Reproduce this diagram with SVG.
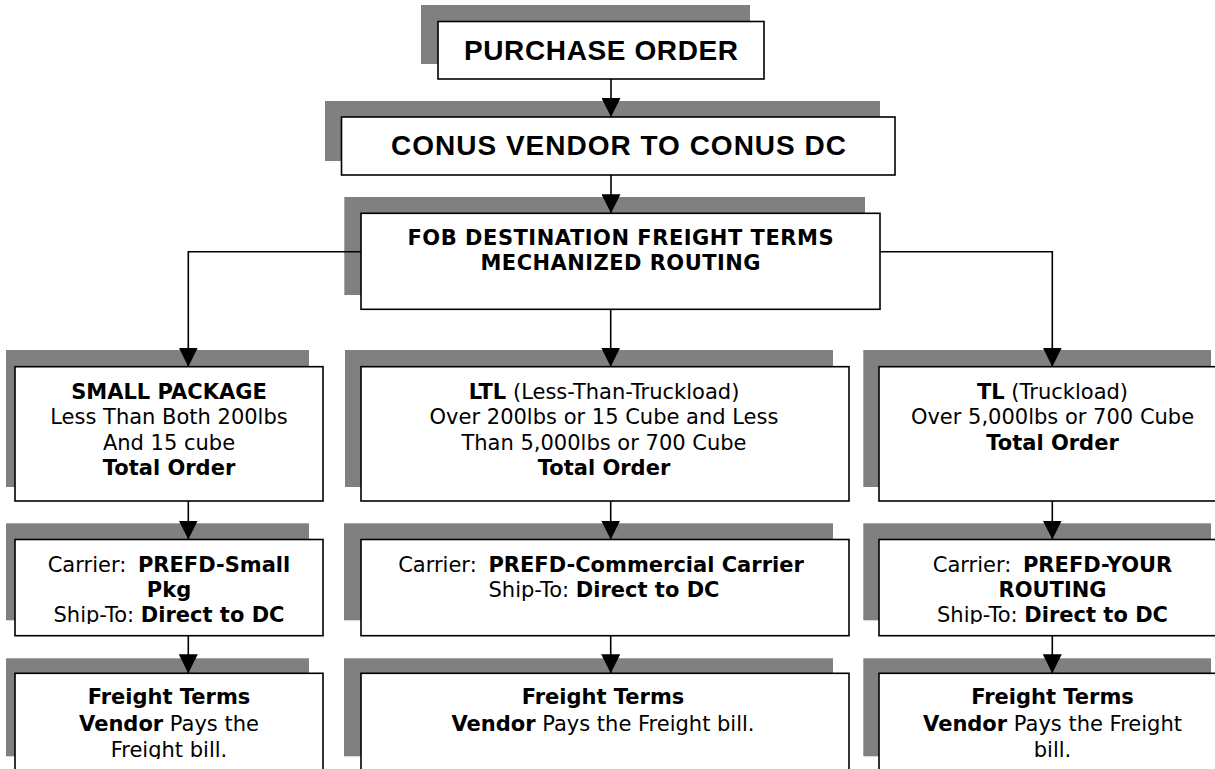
<svg xmlns="http://www.w3.org/2000/svg" width="1215" height="769" viewBox="0 0 1215 769">
<style>
.bg{fill:#ffffff}
.sh{fill:#808080}
.bx{fill:#ffffff;stroke:#000;stroke-width:1.6}
.cn{fill:none;stroke:#000;stroke-width:1.6}
.ti{font-family:"Liberation Sans",Arial,sans-serif;font-weight:bold;font-size:28px;fill:#000;text-anchor:middle}
.fb{font-family:"DejaVu Sans",Verdana,sans-serif;font-weight:bold;font-size:21px;fill:#000;text-anchor:middle}
.t{font-family:"DejaVu Sans",Verdana,sans-serif;font-size:21px;fill:#000;text-anchor:middle}
.b{font-weight:bold}
</style>
<defs>
<marker id="ah" markerUnits="userSpaceOnUse" markerWidth="19" markerHeight="19" viewBox="0 0 10 10" refX="10" refY="5" orient="auto">
<path d="M0,0 L10,5 L0,10 z" fill="#000"/>
</marker>
<clipPath id="c2"><rect x="0" y="536" width="1215" height="88"/></clipPath>
<clipPath id="c3"><rect x="0" y="670" width="1215" height="89"/></clipPath>
</defs>
<rect class="bg" x="0" y="0" width="1215" height="769"/>

<g id="purchase-order">
<rect class="sh" x="421" y="5" width="329" height="59"/>
<rect class="bx" x="438" y="21.5" width="326" height="57.5"/>
<text class="ti" x="601" y="59.5" textLength="274">PURCHASE ORDER</text>
</g>

<g id="conus">
<rect class="sh" x="325" y="101" width="555" height="60"/>
<rect class="bx" x="341.5" y="117" width="553.5" height="58"/>
<text class="ti" x="618.5" y="155" textLength="455">CONUS VENDOR TO CONUS DC</text>
</g>

<g id="fob">
<rect class="sh" x="344.3" y="197" width="520.7" height="98"/>
<rect class="bx" x="361" y="213.3" width="519" height="96"/>
<text class="fb" x="620.5" y="245" textLength="426">FOB DESTINATION FREIGHT TERMS</text>
<text class="fb" x="620.5" y="269.5" textLength="280">MECHANIZED ROUTING</text>
</g>

<g id="small-package">
<rect class="sh" x="6" y="350" width="303" height="137"/>
<rect class="bx" x="15" y="366.7" width="308" height="134.3"/>
<text class="t b" x="169" y="398.5">SMALL PACKAGE</text>
<text class="t" x="169" y="424">Less Than Both 200lbs</text>
<text class="t" x="169" y="449.5">And 15 cube</text>
<text class="t b" x="169" y="475">Total Order</text>
</g>

<g id="ltl">
<rect class="sh" x="345" y="350" width="488" height="137"/>
<rect class="bx" x="361" y="366.7" width="488" height="134.3"/>
<text class="t" x="604" y="398.5"><tspan class="b">LTL</tspan> (Less-Than-Truckload)</text>
<text class="t" x="604" y="424">Over 200lbs or 15 Cube and Less</text>
<text class="t" x="604" y="449.5">Than 5,000lbs or 700 Cube</text>
<text class="t b" x="604" y="475">Total Order</text>
</g>

<g id="tl">
<rect class="sh" x="863.3" y="350" width="347.7" height="137"/>
<rect class="bx" x="879" y="366.7" width="347" height="134.3"/>
<text class="t" x="1052.5" y="398.5"><tspan class="b">TL</tspan> (Truckload)</text>
<text class="t" x="1052.5" y="424">Over 5,000lbs or 700 Cube</text>
<text class="t b" x="1052.5" y="449.5">Total Order</text>
</g>

<g id="carrier-small">
<rect class="sh" x="6" y="523.3" width="303" height="97"/>
<rect class="bx" x="15" y="539.5" width="308" height="96.2"/>
<g clip-path="url(#c2)">
<text class="t" x="169" y="571.7">Carrier: <tspan class="b" dx="5">PREFD-Small</tspan></text>
<text class="t b" x="169" y="596.7">Pkg</text>
<text class="t" x="169" y="621.7">Ship-To: <tspan class="b">Direct to DC</tspan></text>
</g>
</g>

<g id="carrier-ltl">
<rect class="sh" x="344" y="523.3" width="489" height="97"/>
<rect class="bx" x="361" y="539.5" width="488" height="96.2"/>
<text class="t" x="601" y="571.7">Carrier: <tspan class="b" dx="5">PREFD-Commercial Carrier</tspan></text>
<text class="t" x="604" y="596.7">Ship-To: <tspan class="b">Direct to DC</tspan></text>
</g>

<g id="carrier-tl">
<rect class="sh" x="863.3" y="523.3" width="347.7" height="97"/>
<rect class="bx" x="879" y="539.5" width="347" height="96.2"/>
<g clip-path="url(#c2)">
<text class="t" x="1052.5" y="571.7">Carrier: <tspan class="b" dx="5">PREFD-YOUR</tspan></text>
<text class="t b" x="1052.5" y="596.7">ROUTING</text>
<text class="t" x="1052.5" y="621.7">Ship-To: <tspan class="b">Direct to DC</tspan></text>
</g>
</g>

<g id="freight-small">
<rect class="sh" x="6" y="658.3" width="303" height="98"/>
<rect class="bx" x="15" y="673.3" width="308" height="98"/>
<g clip-path="url(#c3)">
<text class="t b" x="169" y="704">Freight Terms</text>
<text class="t" x="169" y="730.5"><tspan class="b">Vendor</tspan> Pays the</text>
<text class="t" x="169" y="757">Freight bill.</text>
</g>
</g>

<g id="freight-ltl">
<rect class="sh" x="344" y="658.3" width="489" height="98"/>
<rect class="bx" x="361" y="673.3" width="488" height="98"/>
<text class="t b" x="603" y="704">Freight Terms</text>
<text class="t" x="603" y="730.5"><tspan class="b">Vendor</tspan> Pays the Freight bill.</text>
</g>

<g id="freight-tl">
<rect class="sh" x="863.3" y="658.3" width="347.7" height="98"/>
<rect class="bx" x="879" y="673.3" width="347" height="98"/>
<g clip-path="url(#c3)">
<text class="t b" x="1052.5" y="704">Freight Terms</text>
<text class="t" x="1052.5" y="730.5"><tspan class="b">Vendor</tspan> Pays the Freight</text>
<text class="t" x="1052.5" y="757">bill.</text>
</g>
</g>

<g id="connectors">
<line class="cn" x1="611" y1="79" x2="611" y2="117" marker-end="url(#ah)"/>
<line class="cn" x1="611" y1="175" x2="611" y2="213.3" marker-end="url(#ah)"/>
<polyline class="cn" points="361,251.7 188.3,251.7 188.3,366.7" marker-end="url(#ah)"/>
<line class="cn" x1="610.7" y1="309.3" x2="610.7" y2="366.7" marker-end="url(#ah)"/>
<polyline class="cn" points="880,251.7 1052.3,251.7 1052.3,366.7" marker-end="url(#ah)"/>
<line class="cn" x1="188.3" y1="501" x2="188.3" y2="539.5" marker-end="url(#ah)"/>
<line class="cn" x1="188.3" y1="635.7" x2="188.3" y2="673.3" marker-end="url(#ah)"/>
<line class="cn" x1="610.7" y1="501" x2="610.7" y2="539.5" marker-end="url(#ah)"/>
<line class="cn" x1="610.7" y1="635.7" x2="610.7" y2="673.3" marker-end="url(#ah)"/>
<line class="cn" x1="1052.3" y1="501" x2="1052.3" y2="539.5" marker-end="url(#ah)"/>
<line class="cn" x1="1052.3" y1="635.7" x2="1052.3" y2="673.3" marker-end="url(#ah)"/>
</g>
</svg>
